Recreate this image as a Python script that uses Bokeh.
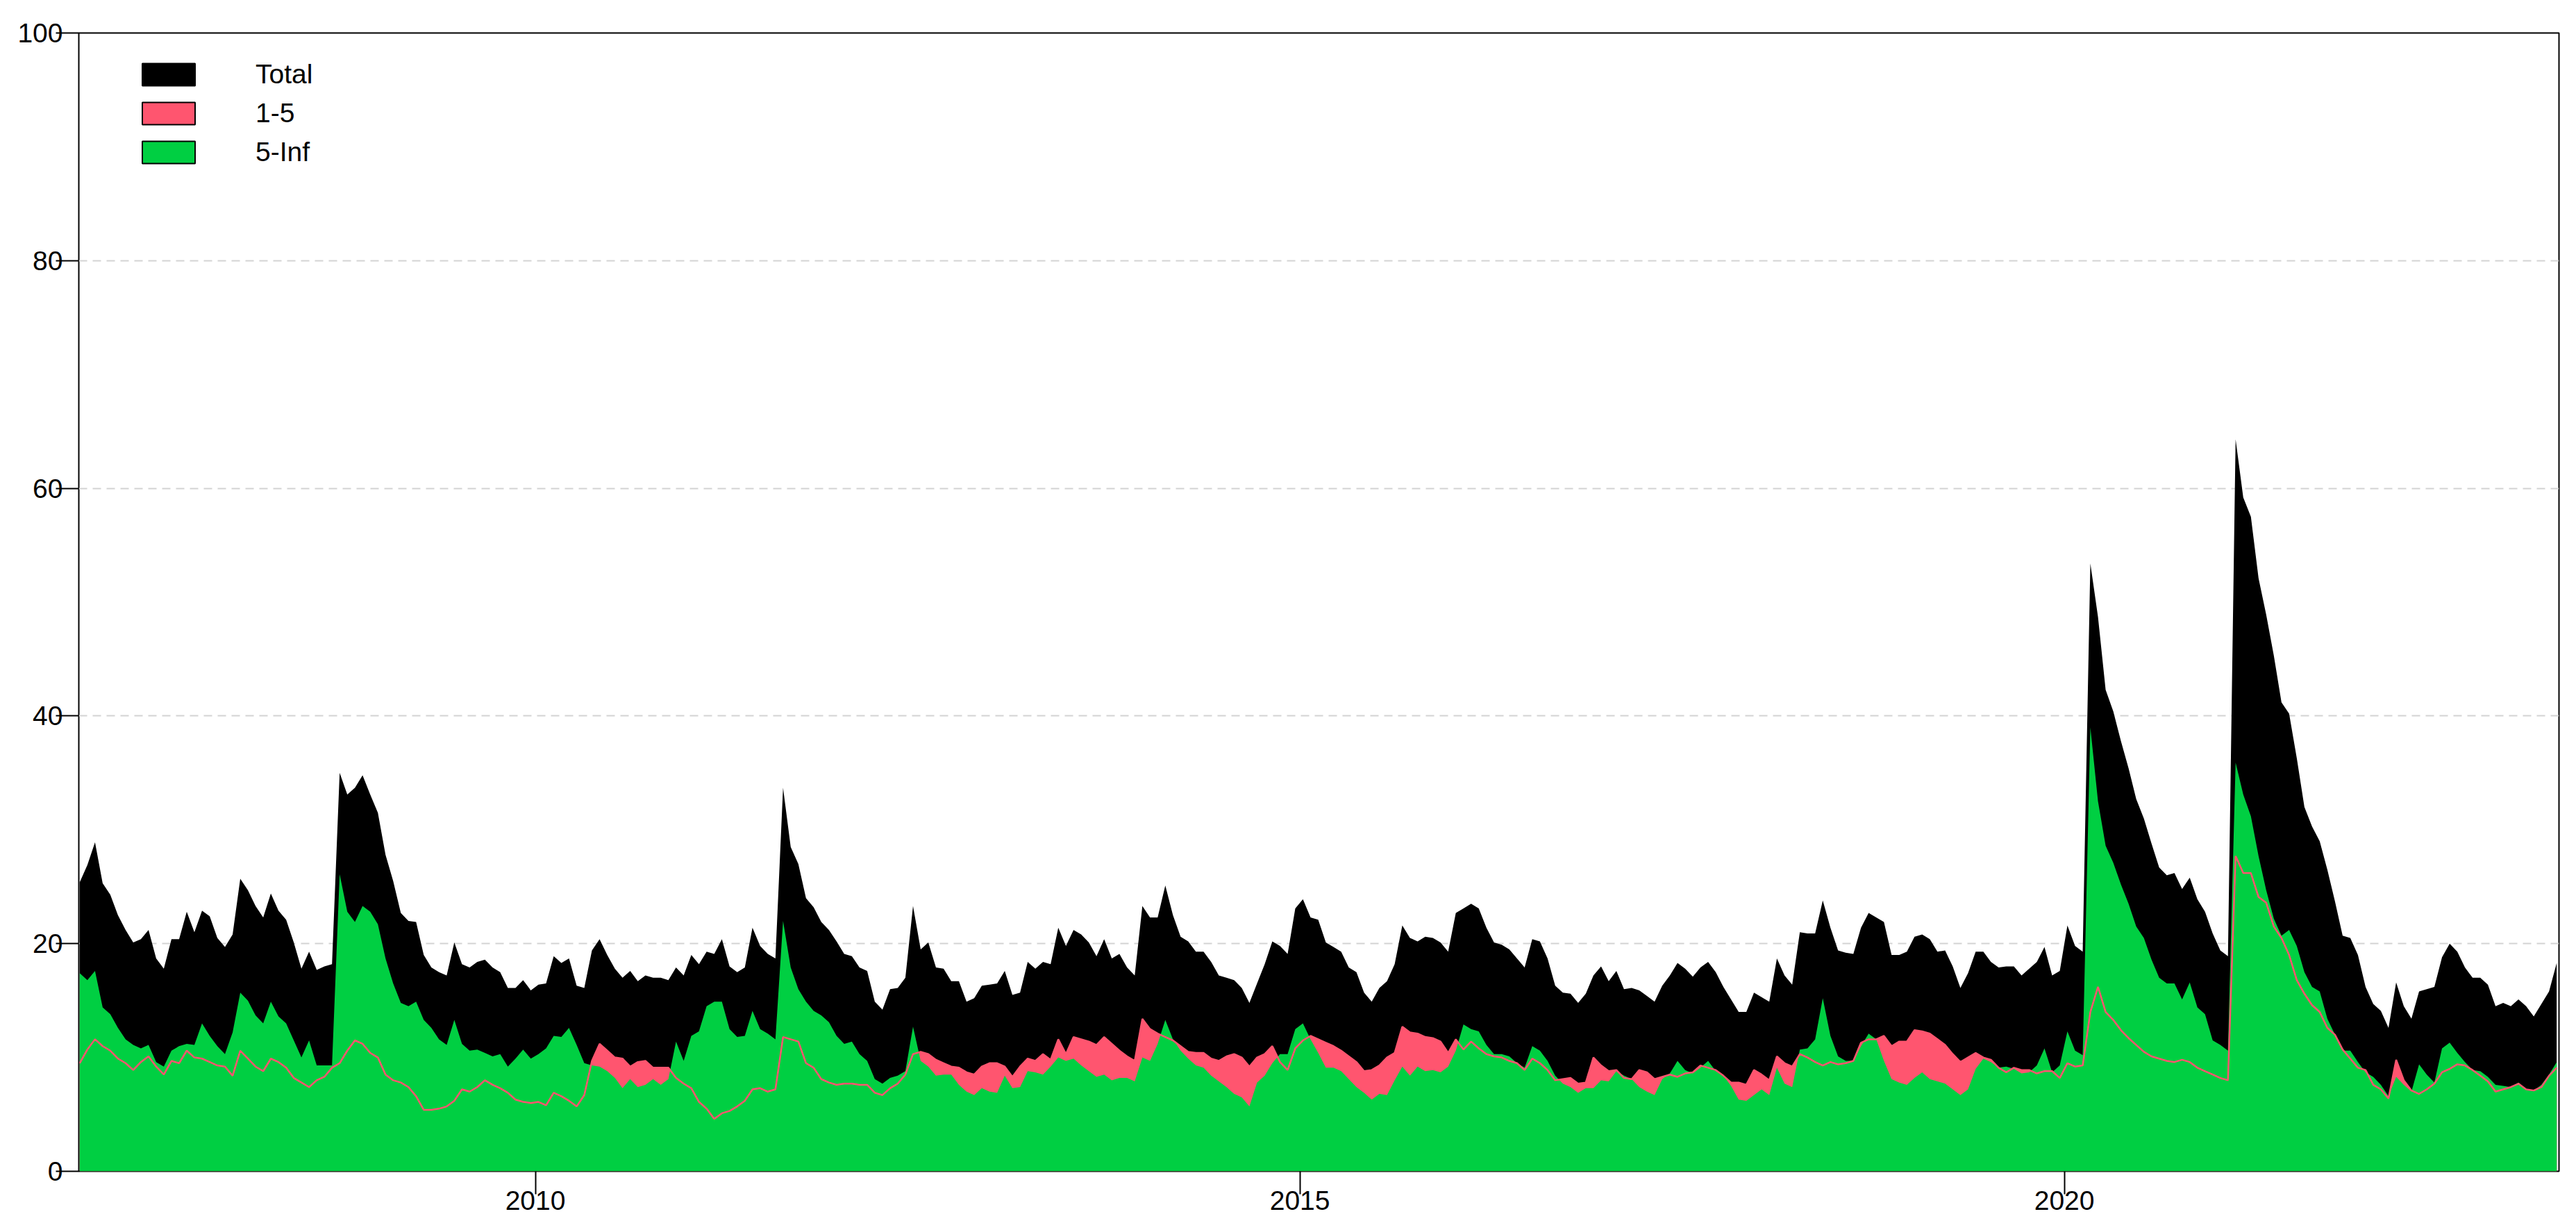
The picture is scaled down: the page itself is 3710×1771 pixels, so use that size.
from bokeh.plotting import figure
from bokeh.models import Range1d, FixedTicker, Legend, LegendItem, ColumnDataSource
from bokeh.core.properties import value
from bokeh.embed import file_html
from bokeh.resources import INLINE

START_YEAR = 2007.02
STEP_YEARS = 0.05

total = [
    25.4, 26.9, 28.9, 25.3, 24.3, 22.5, 21.2, 20.1, 20.4, 21.2,
    18.7, 17.8, 20.4, 20.4, 22.8, 21.0, 22.9, 22.4, 20.5, 19.7,
    20.8, 25.7, 24.7, 23.3, 22.3, 24.4, 22.9, 22.1, 20.1, 17.8,
    19.3, 17.7, 18.0, 18.2, 35.0, 33.1, 33.7, 34.8, 33.1, 31.5,
    27.8, 25.5, 22.7, 22.0, 21.9, 19.0, 17.9, 17.5, 17.2, 20.1,
    18.2, 17.9, 18.4, 18.6, 17.9, 17.5, 16.1, 16.1, 16.8, 15.9,
    16.4, 16.5, 18.9, 18.3, 18.7, 16.3, 16.1, 19.4, 20.4, 19.0,
    17.8, 17.0, 17.6, 16.7, 17.2, 17.0, 17.0, 16.8, 17.9, 17.2,
    19.0, 18.2, 19.3, 19.1, 20.4, 18.0, 17.5, 17.9, 21.4, 19.8,
    19.1, 18.7, 33.7, 28.5, 27.0, 24.0, 23.2, 21.9, 21.2, 20.2,
    19.1, 18.9, 17.9, 17.6, 14.9, 14.2, 16.0, 16.1, 17.0, 23.3,
    19.5, 20.1, 17.9, 17.8, 16.7, 16.7, 14.9, 15.2, 16.3, 16.4,
    16.5, 17.6, 15.5, 15.7, 18.4, 17.8, 18.4, 18.2, 21.4, 19.8,
    21.2, 20.8, 20.1, 18.9, 20.4, 18.7, 19.1, 17.9, 17.2, 23.3,
    22.3, 22.3, 25.1, 22.5, 20.6, 20.2, 19.3, 19.3, 18.4, 17.2,
    17.0, 16.8, 16.1, 14.8, 16.5, 18.2, 20.2, 19.8, 19.1, 23.1,
    23.9, 22.3, 22.1, 20.1, 19.7, 19.3, 17.9, 17.5, 15.7, 14.9,
    16.1, 16.7, 18.2, 21.6, 20.5, 20.2, 20.6, 20.5, 20.1, 19.3,
    22.7, 23.1, 23.5, 23.1, 21.4, 20.1, 19.9, 19.5, 18.7, 17.9,
    20.4, 20.2, 18.7, 16.3, 15.7, 15.6, 14.8, 15.6, 17.2, 18.0,
    16.7, 17.6, 16.0, 16.1, 15.9, 15.4, 14.9, 16.3, 17.2, 18.3,
    17.8, 17.1, 17.9, 18.4, 17.5, 16.2, 15.1, 14.0, 14.0, 15.7,
    15.3, 14.9, 18.7, 17.2, 16.4, 21.0, 20.9, 20.9, 23.8, 21.4,
    19.4, 19.2, 19.1, 21.4, 22.7, 22.3, 21.9, 19.0, 19.0, 19.3,
    20.6, 20.8, 20.4, 19.3, 19.4, 18.0, 16.1, 17.4, 19.3, 19.3,
    18.4, 17.9, 18.0, 18.0, 17.2, 17.8, 18.4, 19.7, 17.2, 17.6,
    21.6, 19.8, 19.3, 53.4, 48.7, 42.3, 40.4, 37.8, 35.4, 32.7,
    31.0, 28.8, 26.7, 26.0, 26.2, 24.8, 25.8, 23.9, 22.8, 20.9,
    19.4, 18.9, 64.3, 59.2, 57.5, 52.1, 48.9, 45.3, 41.2, 40.2,
    36.3, 32.0, 30.3, 29.0, 26.5, 23.7, 20.7, 20.5, 19.0, 16.2,
    14.7, 14.1, 12.6, 16.6, 14.5, 13.4, 15.8, 16.0, 16.2, 18.8,
    20.0, 19.3, 17.9, 17.0, 17.0, 16.4, 14.5, 14.8, 14.5, 15.1,
    14.5, 13.6, 14.7, 15.8, 18.3,
]

five_to_inf = [
    17.4, 16.8, 17.6, 14.4, 13.8, 12.6, 11.6, 11.1, 10.8, 11.1,
    9.6, 9.2, 10.6, 11.0, 11.2, 11.1, 13.0, 11.9, 11.0, 10.3,
    12.2, 15.7, 15.0, 13.7, 13.0, 14.9, 13.6, 13.0, 11.5, 10.0,
    11.5, 9.3, 9.3, 9.3, 26.1, 22.8, 21.9, 23.3, 22.8, 21.7,
    18.7, 16.5, 14.8, 14.5, 14.9, 13.3, 12.6, 11.6, 11.1, 13.3,
    11.2, 10.6, 10.7, 10.4, 10.1, 10.3, 9.2, 9.9, 10.7, 9.9,
    10.3, 10.8, 11.9, 11.8, 12.6, 11.1, 9.5, 9.3, 9.2, 8.8,
    8.2, 7.3, 8.1, 7.4, 7.6, 8.1, 7.6, 8.1, 11.4, 9.7,
    11.9, 12.3, 14.5, 14.9, 14.9, 12.5, 11.8, 11.9, 14.1, 12.5,
    12.1, 11.6, 22.0, 17.9, 16.0, 14.9, 14.1, 13.7, 13.1, 11.9,
    11.2, 11.4, 10.3, 9.7, 8.1, 7.7, 8.2, 8.4, 8.8, 12.7,
    9.7, 9.2, 8.4, 8.5, 8.5, 7.6, 7.0, 6.7, 7.3, 7.0,
    6.9, 8.4, 7.3, 7.4, 8.8, 8.7, 8.5, 9.2, 10.0, 9.7,
    9.9, 9.3, 8.8, 8.3, 8.5, 8.0, 8.2, 8.2, 7.9, 10.0,
    9.7, 11.2, 13.3, 11.6, 10.6, 9.9, 9.3, 9.1, 8.4, 7.9,
    7.4, 6.8, 6.5, 5.7, 7.8, 8.4, 9.5, 10.3, 10.3, 12.5,
    13.0, 11.6, 10.4, 9.1, 9.1, 8.8, 8.1, 7.4, 6.9, 6.3,
    6.8, 6.7, 8.0, 9.2, 8.4, 9.2, 8.8, 8.9, 8.7, 9.2,
    10.6, 12.9, 12.5, 12.3, 11.1, 10.3, 10.3, 10.1, 9.5, 9.1,
    11.0, 10.6, 9.7, 8.4, 7.7, 7.4, 6.9, 7.3, 7.3, 8.0,
    7.9, 8.8, 8.4, 8.1, 7.4, 7.0, 6.7, 8.1, 8.6, 9.7,
    8.9, 8.6, 9.1, 9.7, 8.8, 8.4, 7.5, 6.3, 6.2, 6.7,
    7.2, 6.7, 9.1, 7.7, 7.4, 10.7, 10.8, 11.6, 15.2, 11.9,
    10.1, 9.7, 9.7, 11.0, 12.1, 11.6, 9.7, 8.1, 7.8, 7.6,
    8.2, 8.7, 8.1, 7.9, 7.7, 7.2, 6.7, 7.2, 9.0, 9.9,
    9.6, 9.1, 9.2, 9.0, 8.6, 8.7, 9.3, 10.8, 8.7, 9.3,
    12.3, 10.6, 10.2, 39.0, 32.5, 28.6, 27.1, 25.2, 23.5, 21.5,
    20.5, 18.6, 17.0, 16.5, 16.5, 15.1, 16.6, 14.4, 13.8, 11.5,
    11.1, 10.6, 35.9, 33.1, 31.2, 27.7, 24.7, 22.2, 20.7, 21.2,
    19.8, 17.5, 16.2, 15.8, 13.4, 12.0, 10.6, 10.6, 9.6, 8.7,
    8.3, 7.6, 6.6, 8.3, 7.6, 7.0, 9.4, 8.5, 7.8, 10.8,
    11.3, 10.4, 9.6, 8.9, 8.8, 8.3, 7.6, 7.5, 7.4, 7.8,
    7.2, 7.1, 7.6, 8.5, 9.6,
]

one_to_five = [
    9.5, 10.7, 11.6, 11.0, 10.6, 9.9, 9.5, 8.9, 9.6, 10.1,
    9.2, 8.5, 9.7, 9.5, 10.6, 10.0, 9.9, 9.6, 9.3, 9.2,
    8.4, 10.6, 9.9, 9.2, 8.8, 9.9, 9.6, 9.1, 8.2, 7.8,
    7.4, 8.0, 8.3, 9.1, 9.5, 10.6, 11.5, 11.2, 10.4, 10.0,
    8.5, 8.0, 7.8, 7.4, 6.6, 5.4, 5.4, 5.5, 5.7, 6.2,
    7.2, 7.0, 7.4, 8.0, 7.6, 7.3, 6.9, 6.3, 6.1, 6.0,
    6.1, 5.8, 6.9, 6.6, 6.2, 5.7, 6.7, 9.7, 11.2, 10.6,
    10.0, 9.9, 9.2, 9.6, 9.7, 9.1, 9.1, 9.1, 8.2, 7.7,
    7.3, 6.1, 5.5, 4.6, 5.1, 5.3, 5.7, 6.2, 7.2, 7.3,
    7.0, 7.2, 11.8, 11.6, 11.4, 9.5, 9.1, 8.1, 7.8, 7.6,
    7.7, 7.7, 7.6, 7.6, 6.9, 6.7, 7.3, 7.7, 8.5, 10.3,
    10.5, 10.3, 9.8, 9.5, 9.2, 9.1, 8.7, 8.5, 9.2, 9.5,
    9.5, 9.2, 8.3, 9.2, 9.9, 9.7, 10.3, 9.8, 11.6, 10.3,
    11.8, 11.6, 11.4, 11.1, 11.8, 11.2, 10.6, 10.1, 9.7, 13.4,
    12.5, 12.1, 11.8, 11.5, 11.0, 10.5, 10.4, 10.4, 9.9, 9.7,
    10.1, 10.3, 10.0, 9.2, 10.0, 10.3, 11.0, 9.6, 8.9, 10.8,
    11.5, 11.9, 11.6, 11.3, 11.0, 10.6, 10.1, 9.6, 8.8, 8.9,
    9.3, 10.0, 10.4, 12.7, 12.2, 12.1, 11.8, 11.7, 11.4, 10.4,
    11.6, 10.7, 11.4, 10.8, 10.3, 10.1, 10.0, 9.7, 9.5, 8.9,
    9.9, 9.5, 8.9, 8.0, 8.1, 8.2, 7.7, 7.8, 10.0, 9.3,
    8.8, 8.9, 8.2, 8.1, 8.9, 8.7, 8.1, 8.3, 8.5, 8.3,
    8.6, 8.7, 9.3, 9.1, 8.9, 8.4, 7.8, 7.8, 7.6, 8.9,
    8.5, 8.0, 10.1, 9.5, 9.2, 10.3, 10.0, 9.6, 9.3, 9.6,
    9.4, 9.5, 9.7, 11.3, 11.6, 11.6, 11.9, 11.0, 11.4, 11.4,
    12.4, 12.3, 12.1, 11.6, 11.1, 10.3, 9.6, 10.0, 10.4, 10.0,
    9.8, 9.1, 8.7, 9.1, 8.9, 8.9, 8.6, 8.8, 8.8, 8.2,
    9.5, 9.2, 9.3, 14.0, 16.2, 14.0, 13.3, 12.4, 11.7, 11.1,
    10.5, 10.1, 9.9, 9.7, 9.6, 9.8, 9.6, 9.1, 8.8, 8.5,
    8.2, 8.0, 27.7, 26.2, 26.2, 24.1, 23.6, 21.5, 20.5, 19.0,
    16.8, 15.6, 14.6, 14.0, 12.6, 12.0, 10.7, 9.9, 9.1, 8.9,
    7.6, 7.2, 6.4, 9.8, 8.0, 7.1, 6.8, 7.2, 7.7, 8.7,
    9.0, 9.4, 9.3, 8.9, 8.4, 7.9, 7.0, 7.2, 7.4, 7.7,
    7.2, 7.1, 7.4, 8.4, 9.1,
]

series_labels = ["Total", "1-5", "5-Inf"]
x_ticks = [2010, 2015, 2020]
y_ticks = [0, 20, 40, 60, 80, 100]

assert len(total) == len(five_to_inf) == len(one_to_five)
years = [START_YEAR + STEP_YEARS * i for i in range(len(total))]

BLACK = "#000000"
PINK = "#FF556F"
GREEN = "#00CF42"
FONT = "Liberation Sans"

p = figure(width=3710, height=1771, output_backend="svg", toolbar_location=None,
           x_range=Range1d(2007.014, 2023.235), y_range=Range1d(0, 100),
           min_border_left=113, min_border_right=25, min_border_top=47,
           min_border_bottom=85, background_fill_color="white",
           border_fill_color="white")

p.xgrid.visible = False
p.ygrid.ticker = FixedTicker(ticks=[20, 40, 60, 80])
p.ygrid.grid_line_color = "#D3D3D3"
p.ygrid.grid_line_width = 2
p.ygrid.grid_line_dash = "12 8"

p.xaxis.ticker = FixedTicker(ticks=x_ticks)
p.yaxis.ticker = FixedTicker(ticks=y_ticks)
for ax in p.axis:
    ax.axis_line_color = None
    ax.major_tick_line_color = "black"
    ax.major_tick_line_width = 2
    ax.major_tick_in = 0
    ax.major_tick_out = 33
    ax.minor_tick_line_color = None
    ax.major_label_text_font = FONT
    ax.major_label_text_font_size = "39px"
    ax.major_label_text_color = "black"
p.xaxis.major_label_standoff = -5
p.yaxis.major_label_standoff = -10

p.outline_line_color = "black"
p.outline_line_width = 2
p.outline_line_alpha = 1.0

src = ColumnDataSource(dict(x=years, total=total, a=one_to_five, b=five_to_inf))
p.varea(x="x", y1=0, y2="total", source=src, fill_color=BLACK)
p.varea(x="x", y1=0, y2="a", source=src, fill_color=PINK)
p.varea(x="x", y1=0, y2="b", source=src, fill_color=GREEN)
p.line(x="x", y="a", source=src, line_color=PINK, line_width=2.5)

# legend swatches: quads with a single NaN row (never drawn in the plot)
nan = float("nan")
items = []
for lab, col in zip(series_labels, [BLACK, PINK, GREEN]):
    swatch = ColumnDataSource(dict(l=[nan], r=[nan], t=[nan], b=[nan]))
    rr = p.quad(left="l", right="r", top="t", bottom="b", source=swatch,
                fill_color=col, line_color="black", line_width=2)
    items.append(LegendItem(label=value(lab), renderers=[rr]))

legend = Legend(items=items, location=(82, 1445))
legend.glyph_width = 95
legend.glyph_height = 40
legend.label_height = 31
legend.label_standoff = 78
legend.spacing = 12
legend.padding = 0
legend.margin = 0
legend.border_line_color = None
legend.background_fill_alpha = 0
legend.label_text_font = FONT
legend.label_text_font_size = "39px"
legend.label_text_color = "black"
p.add_layout(legend)

open("out.html", "w").write(file_html(p, INLINE))
